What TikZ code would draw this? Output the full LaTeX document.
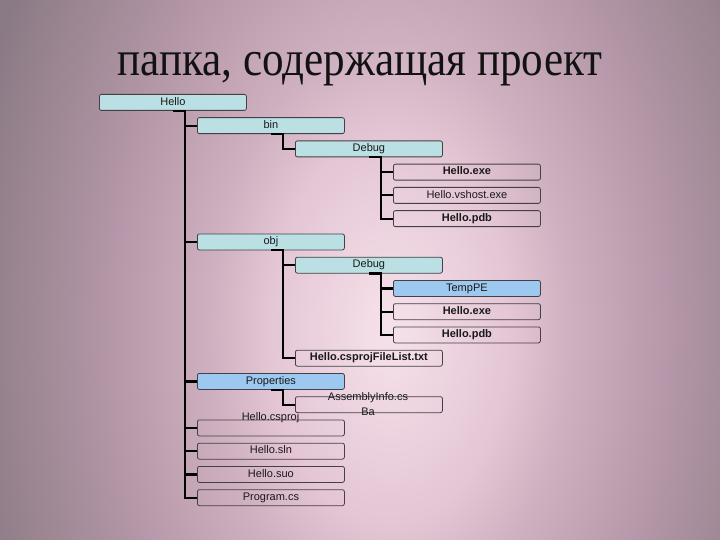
\documentclass[tikz,border=0pt]{standalone}
\usepackage{fontspec}
\setmainfont{Liberation Serif}
\newfontfamily\boxfont{Liberation Sans}
\definecolor{bgA}{HTML}{F6E2EA}
\definecolor{bgB}{HTML}{E4C6D5}
\definecolor{bgC}{HTML}{CFB0C0}
\definecolor{bgD}{HTML}{B497A8}
\definecolor{bgE}{HTML}{9A8590}
\definecolor{bgF}{HTML}{8A7A86}
\definecolor{cyanbox}{HTML}{BBE0E4}
\definecolor{bluebox}{HTML}{9DC8F0}
\definecolor{boxline}{HTML}{454045}
\pgfdeclareradialshading{bgshade}{\pgfpoint{0bp}{0bp}}{color(0bp)=(bgA); color(6bp)=(bgB); color(9bp)=(bgC); color(14bp)=(bgD); color(18.75bp)=(bgE); color(21.5bp)=(bgF); color(50bp)=(bgF)}
\tikzset{
  fbox/.style={draw=boxline, line width=0.8pt, rounded corners=2pt, anchor=north west,
    minimum width=147pt, minimum height=16pt, inner sep=0pt,
    font=\boxfont\fontsize{11}{12}\selectfont, text=black!90,
    text height=8pt, text depth=2.5pt},
  cyanf/.style={fbox, fill=cyanbox},
  bluef/.style={fbox, fill=bluebox},
  plainf/.style={fbox},
  boldf/.style={fbox, font=\boxfont\bfseries\fontsize{11}{12}\selectfont},
  conn/.style={draw=black, line width=2.2pt, line join=miter},
  freetext/.style={font=\boxfont\fontsize{11}{15}\selectfont, text=black!90, inner sep=0pt}
}
\newcommand\treelink[2]{\draw[conn] ([xshift=74pt]#1.south west) -- ([xshift=86pt]#1.south west) |- (#2.west);}
\begin{document}
\begin{tikzpicture}[x=1pt,y=-1pt]
\useasboundingbox (0,0) rectangle (720,540);
\begin{scope}
  \clip (0,0) rectangle (720,540);
  \shade[shading=bgshade] (-110,-470) rectangle (890,1130);
\end{scope}
\node[font=\fontsize{44}{50}\selectfont, text=black!93, anchor=base, inner sep=0pt] (title) at (360,76) {\scalebox{0.98}[1.12]{папка, содержащая проект}};

\node[cyanf] (hello) at (99,94) {Hello};
\node[cyanf] (bin) at (197,117.25) {bin};
\node[cyanf] (dbg1) at (295,140.5) {Debug};
\node[boldf] (exe1) at (393,163.75) {Hello.exe};
\node[plainf] (vshost) at (393,187) {Hello.vshost.exe};
\node[boldf] (pdb1) at (393,210.25) {Hello.pdb};
\node[cyanf] (obj) at (197,233.5) {obj};
\node[cyanf] (dbg2) at (295,256.75) {Debug};
\node[bluef] (temppe) at (393,280) {TempPE};
\node[boldf] (exe2) at (393,303.25) {Hello.exe};
\node[boldf] (pdb2) at (393,326.5) {Hello.pdb};
\node[boldf] (filelist) at (295,349.75) {Hello.csprojFileList.txt};
\node[bluef] (props) at (197,373) {Properties};
\node[plainf] (asm) at (295,396.25) {};
\node[plainf] (csproj) at (197,419.5) {};
\node[plainf] (sln) at (197,442.75) {Hello.sln};
\node[plainf] (suo) at (197,466) {Hello.suo};
\node[plainf] (prog) at (197,489.25) {Program.cs};

\node[freetext, align=center] (asmtext) at (368,404.5) {AssemblyInfo.cs\\Ba};
\node[freetext] (csprojtext) at (270.5,417.5) {Hello.csproj};

\treelink{hello}{bin}
\treelink{hello}{obj}
\treelink{hello}{props}
\treelink{hello}{csproj}
\treelink{hello}{sln}
\treelink{hello}{suo}
\treelink{hello}{prog}
\treelink{bin}{dbg1}
\treelink{dbg1}{exe1}
\treelink{dbg1}{vshost}
\treelink{dbg1}{pdb1}
\treelink{obj}{dbg2}
\treelink{obj}{filelist}
\treelink{dbg2}{temppe}
\treelink{dbg2}{exe2}
\treelink{dbg2}{pdb2}
\treelink{props}{asm}
\end{tikzpicture}
\end{document}
